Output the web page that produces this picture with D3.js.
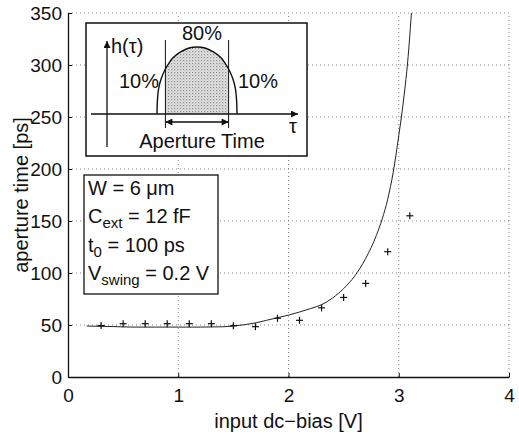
<!DOCTYPE html>
<html><head><meta charset="utf-8">
<script src="https://cdn.jsdelivr.net/npm/d3@7"></script>
<style>
html,body{margin:0;padding:0;background:#fff;}
text{font-family:"Liberation Sans",Arial,Helvetica,sans-serif;fill:#111;}
</style></head>
<body>
<svg id="c" width="519" height="439"></svg>
<script>
// ---- data ----
const xTicks = [0, 1, 2, 3, 4];
const yTicks = [0, 50, 100, 150, 200, 250, 300, 350];
const measuredBias = [0.3, 0.5, 0.7, 0.9, 1.1, 1.3, 1.5, 1.7, 1.9, 2.1, 2.3, 2.5, 2.7, 2.9, 3.1];
const measuredAperture = [49.5, 51.3, 51.3, 51.3, 51.3, 51.3, 49.3, 48.4, 56.5, 54.5, 66.5, 76.5, 90, 120.5, 155];
const modelBias = [0.17, 0.4, 0.6, 0.8, 1.0, 1.2, 1.4, 1.5, 1.6, 1.7, 1.8, 1.9, 2.0, 2.1, 2.2, 2.3, 2.4, 2.5, 2.6, 2.7, 2.8, 2.85, 2.9, 2.95, 3.0, 3.05, 3.08, 3.1, 3.12];
const modelAperture = [49, 48.5, 48, 48, 48, 48, 48.3, 49, 50.3, 52, 54.5, 57, 59.5, 62.5, 65.8, 69.5, 76, 85, 97, 114, 137, 152, 171, 197, 232, 272, 302, 328, 358];
// inset schematic: normalized window shape h(tau)
const bellU = [-1, -0.99, -0.96, -0.9, -0.8, -0.7, -0.6, -0.4, -0.2, 0, 0.2, 0.4, 0.6, 0.7, 0.8, 0.9, 0.96, 0.99, 1];
const bellV = [0, 0.2, 0.38, 0.52, 0.66, 0.76, 0.84, 0.93, 0.985, 1, 0.985, 0.93, 0.84, 0.76, 0.66, 0.52, 0.38, 0.2, 0];
const apertureEdges = [-0.79, 0.79];
const paramLines = [
  ["W = 6 \u03BCm", "", ""],
  ["C", "ext", " = 12 fF"],
  ["t", "0", " = 100 ps"],
  ["V", "swing", " = 0.2 V"]
];

const svg = d3.select("#c");
const L = 68, R = 509, T = 13, B = 377;
const x = d3.scaleLinear().domain([0, 4]).range([L, R]);
const y = d3.scaleLinear().domain([0, 350]).range([B, T]);

// grid
const grid = svg.append("g").attr("stroke", "#666").attr("stroke-width", 0.8).attr("stroke-dasharray", "1,3");
xTicks.slice(1).forEach(t => grid.append("line").attr("x1", x(t)).attr("x2", x(t)).attr("y1", B).attr("y2", T));
yTicks.slice(1).forEach(t => grid.append("line").attr("x1", L).attr("x2", R).attr("y1", y(t)).attr("y2", y(t)));

// axes
const xAxis = d3.axisBottom(x).tickValues(xTicks).tickFormat(d3.format("d")).tickSizeInner(-4).tickSizeOuter(0).tickPadding(12);
const yAxis = d3.axisLeft(y).tickValues(yTicks).tickFormat(d3.format("d")).tickSizeInner(-4).tickSizeOuter(0).tickPadding(6);
const gx = svg.append("g").attr("transform", `translate(0,${B})`).call(xAxis);
const gy = svg.append("g").attr("transform", `translate(${L},0)`).call(yAxis);
[gx, gy].forEach(g => {
  g.select(".domain").attr("stroke", "#111").attr("stroke-width", 1.3);
  g.selectAll(".tick line").attr("stroke", "#111").attr("stroke-width", 1);
  g.selectAll("text").attr("font-size", 19).attr("fill", "#111").attr("font-family", '"Liberation Sans",Arial,sans-serif');
});
gx.selectAll("text").attr("dy", "0.71em");

// axis labels
svg.append("text").attr("x", (L + R) / 2).attr("y", 428).attr("text-anchor", "middle").attr("font-size", 20).text("input dc\u2212bias [V]");
svg.append("text").attr("transform", `translate(28,${(T + B) / 2}) rotate(-90)`).attr("text-anchor", "middle").attr("font-size", 20).text("aperture time [ps]");

// clip
svg.append("clipPath").attr("id", "pc").append("rect").attr("x", L).attr("y", T).attr("width", R - L).attr("height", B - T);

// model curve
const line = d3.line().x((d, i) => x(modelBias[i])).y((d, i) => y(modelAperture[i])).curve(d3.curveMonotoneX);
svg.append("path").attr("clip-path", "url(#pc)").attr("d", line(modelBias)).attr("fill", "none").attr("stroke", "#222").attr("stroke-width", 1);

// measured markers
const m = svg.append("g").attr("stroke", "#111").attr("stroke-width", 1.2);
measuredBias.forEach((b, i) => {
  const cx = x(b), cy = y(measuredAperture[i]);
  m.append("line").attr("x1", cx - 3.5).attr("x2", cx + 3.5).attr("y1", cy).attr("y2", cy);
  m.append("line").attr("x1", cx).attr("x2", cx).attr("y1", cy - 3.5).attr("y2", cy + 3.5);
});

// ---- inset ----
const defs = svg.append("defs");
const pat = defs.append("pattern").attr("id", "stip").attr("width", 3).attr("height", 3).attr("patternUnits", "userSpaceOnUse");
pat.append("rect").attr("width", 3).attr("height", 3).attr("fill", "#e4e4e4");
pat.append("rect").attr("x", 0).attr("y", 0).attr("width", 1.2).attr("height", 1.2).attr("fill", "#888");
pat.append("rect").attr("x", 1.5).attr("y", 1.5).attr("width", 1).attr("height", 1).attr("fill", "#aaa");
defs.append("marker").attr("id", "ah").attr("viewBox", "0 0 10 10").attr("refX", 10).attr("refY", 5)
  .attr("markerWidth", 10).attr("markerHeight", 7).attr("markerUnits", "userSpaceOnUse").attr("orient", "auto-start-reverse")
  .append("path").attr("d", "M0,0 L10,5 L0,10 z").attr("fill", "#111");

svg.append("rect").attr("x", 86).attr("y", 23).attr("width", 221).attr("height", 133).attr("fill", "#fff").attr("stroke", "#111").attr("stroke-width", 1.5);
const iu = d3.scaleLinear().domain([-1, 1]).range([157, 237]);
const iv = d3.scaleLinear().domain([0, 1]).range([114, 47]);
svg.append("clipPath").attr("id", "ap").append("rect").attr("x", iu(apertureEdges[0])).attr("y", 30).attr("width", iu(apertureEdges[1]) - iu(apertureEdges[0])).attr("height", 84);
const area = d3.area().x((d, i) => iu(bellU[i])).y0(iv(0)).y1((d, i) => iv(bellV[i])).curve(d3.curveCatmullRom);
svg.append("path").attr("clip-path", "url(#ap)").attr("d", area(bellU)).attr("fill", "url(#stip)");
const bl = d3.line().x((d, i) => iu(bellU[i])).y((d, i) => iv(bellV[i])).curve(d3.curveCatmullRom);
svg.append("path").attr("d", bl(bellU)).attr("fill", "none").attr("stroke", "#111").attr("stroke-width", 1.4);
// axes of inset
svg.append("line").attr("x1", 91).attr("x2", 298).attr("y1", iv(0)).attr("y2", iv(0)).attr("stroke", "#111").attr("stroke-width", 1.3).attr("marker-end", "url(#ah)");
svg.append("line").attr("x1", 107).attr("x2", 107).attr("y1", 147).attr("y2", 41).attr("stroke", "#111").attr("stroke-width", 1.3).attr("marker-end", "url(#ah)");
apertureEdges.forEach(u => svg.append("line").attr("x1", iu(u)).attr("x2", iu(u)).attr("y1", 40).attr("y2", 128).attr("stroke", "#111").attr("stroke-width", 1));
svg.append("line").attr("x1", iu(apertureEdges[0])).attr("x2", iu(apertureEdges[1])).attr("y1", 122).attr("y2", 122)
  .attr("stroke", "#111").attr("stroke-width", 1.3).attr("marker-end", "url(#ah)").attr("marker-start", "url(#ah)");
const it = svg.append("g").attr("font-size", 20);
it.append("text").attr("x", 111).attr("y", 53).text("h(\u03C4)");
it.append("text").attr("x", 202).attr("y", 40).attr("text-anchor", "middle").text("80%");
it.append("text").attr("x", 139).attr("y", 88).attr("text-anchor", "middle").text("10%");
it.append("text").attr("x", 258).attr("y", 88).attr("text-anchor", "middle").text("10%");
it.append("text").attr("x", 202).attr("y", 148).attr("text-anchor", "middle").text("Aperture Time");
it.append("text").attr("x", 289).attr("y", 133).text("\u03C4");

// ---- parameter box ----
svg.append("rect").attr("x", 84).attr("y", 175).attr("width", 134).attr("height", 119).attr("fill", "#fff").attr("stroke", "#111").attr("stroke-width", 1.3);
const baselines = [195, 223, 252, 280];
paramLines.forEach((p, i) => {
  const t = svg.append("text").attr("x", 88).attr("y", baselines[i]).attr("font-size", 20);
  t.append("tspan").text(p[0]);
  if (p[1]) {
    t.append("tspan").attr("font-size", 15).attr("dy", 5).text(p[1]);
    t.append("tspan").attr("dy", -5).text(p[2]);
  }
});
</script>
</body></html>
